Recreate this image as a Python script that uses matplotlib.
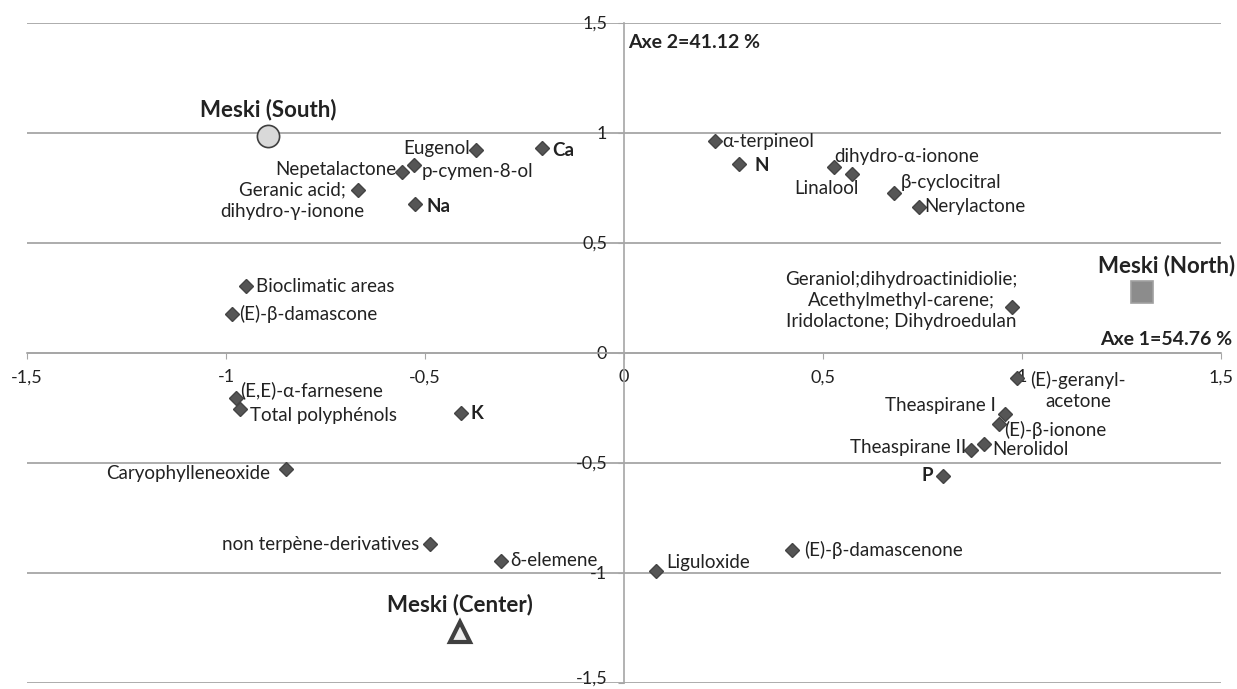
import matplotlib
matplotlib.use("Agg")
from matplotlib import pyplot as plt
from matplotlib.ticker import FuncFormatter
from matplotlib.transforms import ScaledTranslation

plt.rcParams['font.family'] = ['Lato', 'Noto Sans', 'DejaVu Sans']

# variables (diamonds)
names = ["Eugenol", "Ca", "Nepetalactone", "p-cymen-8-ol", "Geranic acid;\ndihydro-γ-ionone", "Na",
         "α-terpineol", "N", "Linalool", "dihydro-α-ionone", "β-cyclocitral", "Nerylactone",
         "Geraniol;dihydroactinidiolie;\nAcethylmethyl-carene;\nIridolactone; Dihydroedulan",
         "(E)-geranyl-\nacetone", "Theaspirane I", "(E)-β-ionone", "Nerolidol", "Theaspirane II", "P",
         "Bioclimatic areas", "(E)-β-damascone", "(E,E)-α-farnesene", "Total polyphénols", "K",
         "Caryophylleneoxide", "non terpène-derivatives", "δ-elemene", "Liguloxide", "(E)-β-damascenone"]
xs = [-0.372, -0.205, -0.558, -0.528, -0.669, -0.525,
      0.229, 0.289, 0.528, 0.574, 0.678, 0.741,
      0.976,
      0.988, 0.957, 0.943, 0.905, 0.872, 0.802,
      -0.951, -0.984, -0.976, -0.966, -0.410,
      -0.849, -0.487, -0.310, 0.080, 0.422]
ys = [0.920, 0.931, 0.822, 0.852, 0.739, 0.674,
      0.963, 0.855, 0.842, 0.810, 0.726, 0.663,
      0.205,
      -0.117, -0.281, -0.327, -0.414, -0.443, -0.561,
      0.304, 0.174, -0.208, -0.257, -0.274,
      -0.530, -0.872, -0.946, -0.993, -0.898]
bold_names = ["Ca", "Na", "N", "P", "K"]

# observations
sites = ["Meski (South)", "Meski (North)", "Meski (Center)"]
site_x = [-0.895, 1.301, -0.412]
site_y = [0.985, 0.276, -1.270]

axis1 = "Axe 1=54.76 %"
axis2 = "Axe 2=41.12 %"

# label placement: (dx px, dy px, ha)
lab = {
    "Eugenol": (-6, 2, "right"), "Ca": (10, -3, "left"), "Nepetalactone": (-6, 2, "right"),
    "p-cymen-8-ol": (8, -6, "left"), "Geranic acid;\ndihydro-γ-ionone": (-65, -11, "center"),
    "Na": (11, -2, "left"), "α-terpineol": (7, -1, "left"), "N": (15, -1, "left"),
    "Linalool": (-8, -21, "center"), "dihydro-α-ionone": (-18, 18, "left"),
    "β-cyclocitral": (7, 10, "left"), "Nerylactone": (5, 0, "left"),
    "Geraniol;dihydroactinidiolie;\nAcethylmethyl-carene;\nIridolactone; Dihydroedulan": (-111, 7, "center"),
    "(E)-geranyl-\nacetone": (61, -12, "center"), "Theaspirane I": (-9, 9, "right"),
    "(E)-β-ionone": (5, -6, "left"), "Nerolidol": (8, -6, "left"), "Theaspirane II": (-5, 2, "right"),
    "P": (-10, 0, "right"), "Bioclimatic areas": (10, -1, "left"), "(E)-β-damascone": (7, 0, "left"),
    "(E,E)-α-farnesene": (5, 8, "left"), "Total polyphénols": (10, -6, "left"), "K": (10, -1, "left"),
    "Caryophylleneoxide": (-16, -4, "right"), "non terpène-derivatives": (-11, 0, "right"),
    "δ-elemene": (10, 0, "left"), "Liguloxide": (10, 8, "left"), "(E)-β-damascenone": (12, 0, "left"),
}
site_lab = {"Meski (South)": (0, 26, "center"), "Meski (North)": (93, 26, "right"),
            "Meski (Center)": (0, 27, "center")}

grey = "#a6a6a6"
txt = "#222222"
fig = plt.figure(figsize=(12.37, 6.89), dpi=100)
ax = fig.add_axes([27/1237, 1-682.5/689, (1221-27)/1237, 660/689])
ax.set_xlim(-1.5, 1.5)
ax.set_ylim(-1.5, 1.5)
ax.set_xticks([-1.5, -1, -0.5, 0, 0.5, 1, 1.5])
ax.set_yticks([-1.5, -1, -0.5, 0, 0.5, 1, 1.5])
fmt = FuncFormatter(lambda v, p: ("%g" % v).replace(".", ","))
ax.xaxis.set_major_formatter(fmt)
ax.yaxis.set_major_formatter(fmt)
ax.spines['top'].set_visible(False)
ax.spines['right'].set_visible(False)
ax.spines['left'].set_position(('data', 0))
ax.spines['bottom'].set_position(('data', 0))
for s in ['left', 'bottom']:
    ax.spines[s].set_color(grey)
    ax.spines[s].set_linewidth(1.2)
ax.yaxis.grid(True, color=grey, linewidth=1.3)
ax.set_axisbelow(True)
ax.tick_params(axis='both', direction='out', length=4, color=grey, labelsize=13, labelcolor=txt)
ax.tick_params(axis='x', pad=8)
ax.tick_params(axis='y', pad=8)
fig.canvas.draw()
ylabs = ax.get_yticklabels()
ylabs[0].set_transform(ylabs[0].get_transform() + ScaledTranslation(0, 0.05, fig.dpi_scale_trans))

ax.plot(xs, ys, linestyle="none", marker="D", ms=7, color="#555555", mec="#444444", clip_on=False, zorder=3)
for n, x, y in zip(names, xs, ys):
    dx, dy, ha = lab[n]
    ax.annotate(n, (x, y), xytext=(dx, dy), textcoords="offset pixels", ha=ha, va="center",
                fontsize=13.5, color=txt, linespacing=1.3,
                fontweight="bold" if n in bold_names else "normal")

ax.plot(site_x[0], site_y[0], marker="o", ms=16, mfc="#d9d9d9", mec="#404040", mew=1.2, zorder=4)
ax.plot(site_x[1], site_y[1], marker="s", ms=16, mfc="#8c8c8c", mec="#a0a0a0", mew=1.2, zorder=4)
ax.plot(site_x[2], site_y[2], marker="^", ms=15, mfc="#eeeeee", mec="#404040", mew=3, zorder=4)
for n, x, y in zip(sites, site_x, site_y):
    dx, dy, ha = site_lab[n]
    ax.annotate(n, (x, y), xytext=(dx, dy), textcoords="offset pixels", ha=ha, va="center",
                fontsize=16, fontweight="bold", color=txt, annotation_clip=False)

ax.text(0.01, 1.407, axis2, fontsize=14, fontweight="bold", ha="left", va="center", color=txt)
ax.text(1.528, 0.057, axis1, fontsize=14, fontweight="bold", ha="right", va="center", color=txt,
        clip_on=False)

fig.savefig("out.png", dpi=100)
